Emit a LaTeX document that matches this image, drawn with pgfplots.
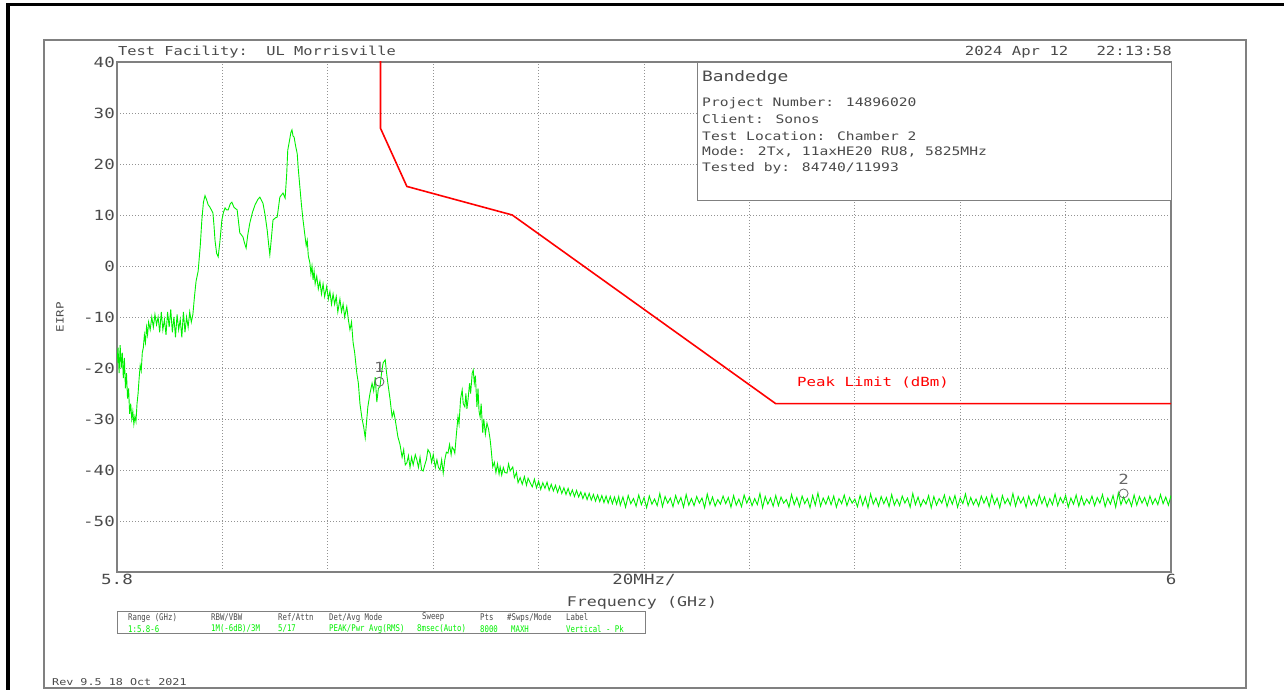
\documentclass[border=0pt]{standalone}
\usepackage{pgfplots}
\pgfplotsset{compat=1.18}
\usepackage{pgfplotstable}
\usepackage{fontspec}
\newfontfamily\hp{DejaVu Sans Mono}[FakeStretch=1.25]
\newfontfamily\hpc{DejaVu Sans Mono}[FakeStretch=0.8]
\newcommand\fs[1]{\fontsize{#1bp}{#1bp}\selectfont}
\definecolor{txt}{HTML}{4A4A4A}
\definecolor{frame}{HTML}{808080}
\definecolor{trace}{HTML}{00F000}

% trace, frequency in MHz, EIRP in dBm
\pgfplotstableread{
f eirp
5800.0 -19
5800.2 -16
5800.4 -21
5800.6 -15.5
5800.8 -20
5801.0 -17
5801.2 -22
5801.4 -18
5801.6 -24
5801.8 -21
5802.0 -26
5802.2 -24
5802.4 -29
5802.6 -27
5802.8 -30
5803.0 -28.5
5803.2 -31
5803.4 -29.5
5803.6 -30.5
5803.8 -27
5804.0 -25
5804.2 -22
5804.4 -19.5
5804.6 -20.5
5804.8 -17
5805.0 -16
5805.2 -13.5
5805.4 -15
5805.6 -12
5805.8 -13.5
5806.0 -11
5806.3 -12.5
5806.6 -10
5806.9 -12
5807.2 -9.5
5807.5 -11.5
5807.8 -10
5808.1 -13
5808.4 -9
5808.7 -12.5
5809.0 -10.5
5809.3 -13.5
5809.6 -9
5809.9 -12
5810.2 -8.5
5810.5 -13
5810.8 -10
5811.1 -14
5811.4 -9.5
5811.7 -12.5
5812.0 -10.5
5812.3 -14
5812.6 -9
5812.9 -13
5813.2 -10
5813.5 -12
5813.8 -9
5814.1 -11
5814.4 -9.5
5814.7 -6
5815.0 -3
5815.4 -1
5815.8 4
5816.1 9
5816.4 12.5
5816.7 13.8
5817.0 13
5817.3 12
5817.6 11.6
5817.9 11
5818.2 10.4
5818.4 8
5818.6 5
5818.9 2.5
5819.2 1.8
5819.5 4.5
5819.9 9
5820.2 10.5
5820.5 11.4
5820.8 11
5821.1 11
5821.5 12.2
5821.8 12.5
5822.2 11.5
5822.8 11
5823.3 6.5
5823.9 5.7
5824.2 4.5
5824.5 3.5
5824.8 6
5825.2 8.4
5825.7 10.5
5826.2 12
5826.7 13
5827.1 13.5
5827.7 12.3
5828.1 10
5828.5 7
5828.8 4
5829.0 2.2
5829.3 5.5
5829.6 9
5830.0 9.4
5830.4 9.6
5830.9 13.5
5831.5 14.3
5831.9 13.3
5832.2 18
5832.4 22.7
5832.8 25
5833.0 26.2
5833.2 26.7
5833.4 25.5
5833.6 25.3
5833.9 23.5
5834.2 22
5834.4 19
5834.7 15.5
5835.0 12
5835.3 9
5835.6 6.5
5835.9 4
5836.1 5
5836.3 2
5836.6 0.6
5836.8 -1.5
5837.0 0
5837.2 -2.7
5837.4 -1
5837.6 -3.5
5837.9 -2
5838.2 -4.5
5838.5 -3
5838.8 -5.5
5839.1 -3.5
5839.4 -6
5839.8 -4
5840.1 -6.5
5840.4 -5
5840.7 -7.5
5841.0 -5.5
5841.3 -7.5
5841.6 -6
5841.9 -9
5842.3 -6.5
5842.6 -9
5842.9 -7.5
5843.2 -10
5843.6 -8
5843.9 -10.5
5844.2 -12.5
5844.5 -11
5844.8 -15
5845.1 -17
5845.5 -21
5845.8 -23
5846.1 -27
5846.5 -30
5846.8 -31.5
5847.1 -33.7
5847.4 -30
5847.6 -27.6
5848.0 -25
5848.4 -23
5848.7 -24.5
5849.0 -21.8
5849.3 -26.7
5849.6 -24
5849.9 -23.7
5850.2 -21
5850.5 -19
5850.9 -18.4
5851.1 -20.5
5851.4 -23
5851.8 -26
5852.2 -29.6
5852.5 -28.5
5852.8 -30.2
5853.0 -31.5
5853.3 -33.5
5853.7 -35
5854.1 -37.5
5854.4 -36
5854.7 -39
5855.0 -38.6
5855.3 -37.2
5855.6 -39.5
5855.9 -37.5
5856.2 -39
5856.6 -37
5856.9 -38
5857.2 -39.5
5857.5 -37.5
5857.8 -40
5858.1 -40.2
5858.4 -39
5858.7 -38
5859.0 -36
5859.4 -36.7
5859.7 -38.5
5860.0 -37
5860.4 -39.5
5860.7 -38
5861.0 -39.5
5861.3 -40
5861.6 -38
5861.9 -40.6
5862.2 -38
5862.5 -36.5
5862.8 -36.7
5863.1 -35
5863.4 -37
5863.6 -35.5
5863.9 -36
5864.1 -36.7
5864.4 -33
5864.7 -29.6
5864.9 -31
5865.2 -26
5865.5 -24.3
5865.7 -27
5866.0 -27.6
5866.2 -25
5866.4 -28
5866.6 -26.3
5866.9 -23
5867.1 -25
5867.4 -21
5867.6 -20.4
5867.8 -23
5868.0 -21.5
5868.3 -27.6
5868.5 -24
5868.7 -28.5
5868.9 -29.6
5869.1 -27
5869.4 -32.7
5869.6 -30
5869.9 -33
5870.2 -30.8
5870.5 -32
5870.8 -34
5871.0 -36
5871.3 -39.4
5871.6 -38.5
5871.9 -40.5
5872.2 -38.8
5872.5 -40.8
5872.7 -39.4
5873.0 -41
5873.3 -39.5
5873.6 -40.5
5874.0 -40.6
5874.3 -38.8
5874.6 -40.2
5875.1 -39.4
5875.4 -41.5
5875.8 -40.5
5876.1 -42.5
5876.5 -41.5
5876.9 -42.8
5877.3 -41.3
5877.7 -43
5878.0 -41.6
5878.4 -42.5
5878.8 -43.3
5879.2 -41.8
5879.6 -43.5
5880.0 -42.2
5880.4 -43.8
5880.8 -42.5
5881.2 -43.6
5881.6 -42.4
5882.0 -44
5882.4 -42.8
5882.8 -44.1
5883.2 -43
5883.6 -44.4
5884.0 -43.2
5884.4 -44.6
5884.8 -43.5
5885.2 -44.8
5885.6 -43.6
5886.0 -45
5886.4 -43.9
5886.8 -45.2
5887.2 -44
5887.6 -45.3
5888.0 -44.3
5888.4 -45.6
5888.8 -44.5
5889.2 -45.8
5889.6 -44.6
5890.0 -45.9
5890.4 -44.8
5890.8 -46.1
5891.2 -44.9
5891.6 -46.2
5892.0 -45
5892.4 -46.4
5892.8 -45.1
5893.2 -46.5
5893.6 -45.2
5894.0 -46.6
5894.4 -45.3
5894.8 -46.7
5895.2 -45.2
5895.5 -46.9
5896.0 -45.3
5896.5 -47.3
5897.0 -45.0
5897.5 -46.6
5898.0 -45.6
5898.5 -47.1
5899.0 -44.9
5899.5 -46.8
5900.0 -45.4
5900.5 -47.4
5901.0 -45.1
5901.5 -46.7
5902.0 -45.7
5902.5 -47.0
5903.0 -44.6
5903.5 -47.2
5904.0 -45.2
5904.5 -46.5
5905.0 -45.5
5905.5 -47.2
5906.0 -45.0
5906.5 -46.6
5907.0 -45.4
5907.5 -47.3
5908.0 -44.8
5908.5 -46.9
5909.0 -45.6
5909.5 -47.0
5910.0 -45.2
5910.5 -46.5
5911.0 -45.5
5911.5 -47.4
5912.0 -44.7
5912.5 -46.8
5913.0 -45.3
5913.5 -47.1
5914.0 -45.8
5914.5 -46.7
5915.0 -45.1
5915.5 -46.6
5916.0 -45.4
5916.5 -47.3
5917.0 -45.0
5917.5 -46.9
5918.0 -45.7
5918.5 -47.2
5919.0 -44.9
5919.5 -46.5
5920.0 -45.3
5920.5 -47.0
5921.0 -45.6
5921.5 -46.8
5922.0 -44.6
5922.5 -47.4
5923.0 -45.2
5923.5 -46.7
5924.0 -45.5
5924.5 -47.1
5925.0 -45.0
5925.5 -47.0
5926.0 -45.3
5926.5 -46.5
5927.0 -45.8
5927.5 -47.3
5928.0 -44.8
5928.5 -46.8
5929.0 -45.4
5929.5 -47.2
5930.0 -45.1
5930.5 -46.6
5931.0 -45.6
5931.5 -47.4
5932.0 -45.0
5932.5 -46.9
5933.0 -44.5
5933.5 -47.1
5934.0 -45.5
5934.5 -46.7
5935.0 -45.2
5935.5 -46.8
5936.0 -45.1
5936.5 -47.3
5937.0 -45.6
5937.5 -46.6
5938.0 -44.9
5938.5 -47.0
5939.0 -45.4
5939.5 -46.5
5940.0 -45.7
5940.5 -47.2
5941.0 -45.0
5941.5 -46.9
5942.0 -45.3
5942.5 -47.4
5943.0 -44.7
5943.5 -46.7
5944.0 -45.5
5944.5 -47.1
5945.0 -45.2
5945.5 -46.6
5946.0 -45.4
5946.5 -47.2
5947.0 -44.8
5947.5 -46.9
5948.0 -45.7
5948.5 -47.0
5949.0 -45.1
5949.5 -46.5
5950.0 -45.5
5950.5 -47.3
5951.0 -44.6
5951.5 -46.8
5952.0 -45.3
5952.5 -47.1
5953.0 -45.8
5953.5 -46.7
5954.0 -45.0
5954.5 -47.4
5955.0 -45.2
5955.5 -46.9
5956.0 -45.6
5956.5 -46.5
5957.0 -44.9
5957.5 -47.2
5958.0 -45.3
5958.5 -46.7
5959.0 -45.0
5959.5 -47.3
5960.0 -45.5
5960.5 -46.6
5961.0 -44.7
5961.5 -47.0
5962.0 -45.4
5962.5 -46.8
5963.0 -45.7
5963.5 -47.1
5964.0 -45.1
5964.5 -46.5
5965.0 -45.3
5965.5 -47.2
5966.0 -44.8
5966.5 -46.7
5967.0 -45.5
5967.5 -47.4
5968.0 -45.0
5968.5 -46.6
5969.0 -45.6
5969.5 -46.9
5970.0 -44.6
5970.5 -47.1
5971.0 -45.2
5971.5 -46.5
5972.0 -45.4
5972.5 -47.3
5973.0 -45.1
5973.5 -46.8
5974.0 -45.7
5974.5 -47.0
5975.0 -44.9
5975.5 -46.6
5976.0 -45.3
5976.5 -47.2
5977.0 -45.6
5977.5 -46.8
5978.0 -44.7
5978.5 -47.0
5979.0 -45.4
5979.5 -46.5
5980.0 -45.0
5980.5 -47.3
5981.0 -45.5
5981.5 -46.7
5982.0 -44.9
5982.5 -47.1
5983.0 -45.2
5983.5 -46.9
5984.0 -45.7
5984.5 -46.6
5985.0 -45.1
5985.5 -47.0
5986.0 -45.4
5986.5 -46.5
5987.0 -44.8
5987.5 -47.2
5988.0 -45.5
5988.5 -46.7
5989.0 -45.0
5989.5 -47.3
5990.0 -44.5
5990.5 -46.8
5991.0 -45.3
5991.5 -46.6
5992.0 -45.6
5992.5 -47.1
5993.0 -44.9
5993.5 -46.9
5994.0 -45.2
5994.5 -46.5
5995.0 -45.4
5995.5 -47.0
5996.0 -45.1
5996.5 -46.7
5997.0 -45.6
5997.5 -46.8
5998.0 -44.8
5998.5 -46.6
5999.0 -45.3
5999.5 -46.9
6000.0 -45.0
}\trace

\begin{document}
\begin{tikzpicture}
\useasboundingbox (0bp,0bp) rectangle (1284bp,690bp);
% outer frames
\begin{scope}[x=1bp,y=1bp]
\draw[black, line width=3bp] (8,0) -- (8,685) -- (1284,685);
\draw[frame, line width=1.2bp] (44,2) rectangle (1246,650);
\end{scope}

\begin{axis}[
  at={(117bp,118bp)}, anchor=south west,
  scale only axis, width=1054bp, height=510bp,
  xmin=5800, xmax=6000, ymin=-60, ymax=40,
  xtick={5800,5820,...,6000},
  xticklabels={5.8,,,,,20MHz/,,,,,6},
  ytick={-60,-50,...,40},
  yticklabels={,-50,-40,-30,-20,-10,0,10,20,30,40},
  scaled x ticks=false,
  major tick length=0pt,
  grid=major,
  major grid style={draw=frame!85, dash pattern=on 1bp off 2bp, line width=0.8bp},
  axis line style={draw=frame, line width=1.2bp},
  tick label style={font=\hp\fs{14}, text=txt},
  xticklabel style={inner sep=1bp, yshift=-1bp},
  yticklabel style={inner sep=2bp},
]
\addplot[trace, line width=0.9bp] table[x=f, y=eirp] {\trace};
\addplot[red, line width=1.6bp] coordinates {
  (5850,45) (5850,27) (5855,15.6) (5875,10) (5925,-27) (6000,-27)
};
\addplot[only marks, mark=o, mark size=4.5bp, draw=gray!80!black, line width=0.8bp,
  nodes near coords, point meta=explicit symbolic,
  every node near coord/.style={anchor=center, yshift=14bp,
    font=\hp\fs{14}, text=gray!80!black}]
  coordinates {(5849.8,-22.7) [1] (5991,-44.6) [2]};
\end{axis}

\begin{scope}[x=1bp,y=1bp]
% info box
\draw[frame, fill=white, line width=1bp] (697,489) rectangle (1171,627);
\begin{scope}[every node/.style={anchor=west, inner sep=0, text=txt}]
\node[font=\hp\fs{14.3}] at (702,612) {Bandedge};
\node[font=\hp\fs{11.7}] at (702,587) {Project Number: 14896020};
\node[font=\hp\fs{11.7}] at (702,571) {Client: Sonos};
\node[font=\hp\fs{11.7}] at (702,554) {Test Location: Chamber 2};
\node[font=\hp\fs{11.7}] at (702,538) {Mode: 2Tx, 11axHE20 RU8, 5825MHz};
\node[font=\hp\fs{11.7}] at (702,522) {Tested by: 84740/11993};

\node[font=\hp\fs{12.3}] at (118,638) {Test Facility:~~UL Morrisville};
\node[font=\hp\fs{12.5}, anchor=east] at (1172,638) {2024 Apr 12~~~22:13:58};
\node[font=\hp\fs{12.6}, text=red] at (797,307) {Peak Limit (dBm)};
\node[font=\hp\fs{9.4}] at (52,8) {Rev 9.5 18 Oct 2021};
\end{scope}

\node[font=\hp\fs{13.3}, text=txt, inner sep=0] at (642,87) {Frequency (GHz)};
\node[font=\hp\fs{10}, text=txt, inner sep=0, rotate=90] at (60,373) {EIRP};

% settings table
\draw[frame, line width=1bp] (117,56) rectangle (645,78);
\begin{scope}[every node/.style={anchor=west, inner sep=0, font=\hpc\fs{9.2}}]
\node[text=txt] at (128,72.5) {Range (GHz)};
\node[text=txt] at (211,72.5) {RBW/VBW};
\node[text=txt] at (278,72.5) {Ref/Attn};
\node[text=txt] at (329,72.5) {Det/Avg Mode};
\node[text=txt] at (422,72.5) {Sweep};
\node[text=txt] at (480,72.5) {Pts};
\node[text=txt] at (507,72.5) {\#Swps/Mode};
\node[text=txt] at (566,72.5) {Label};
\node[text=trace] at (128,61) {1:5.8-6};
\node[text=trace] at (211,61) {1M(-6dB)/3M};
\node[text=trace] at (278,61) {5/17};
\node[text=trace] at (329,61) {PEAK/Pwr Avg(RMS)};
\node[text=trace] at (417,61) {8msec(Auto)};
\node[text=trace] at (480,61) {8000};
\node[text=trace] at (511,61) {MAXH};
\node[text=trace] at (566,61) {Vertical - Pk};
\end{scope}
\end{scope}
\end{tikzpicture}
\end{document}
